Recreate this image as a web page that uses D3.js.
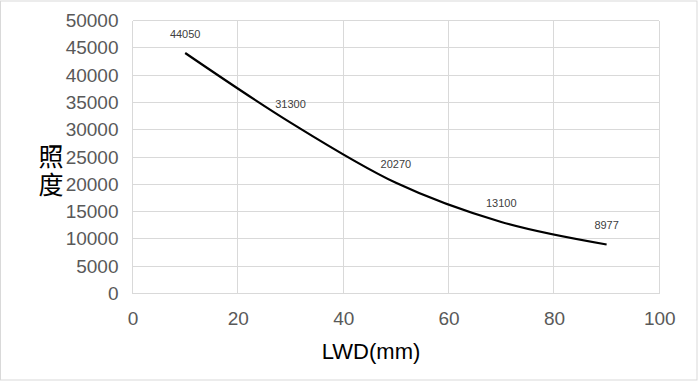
<!DOCTYPE html>
<html><head><meta charset="utf-8">
<script src="https://cdn.jsdelivr.net/npm/d3@7"></script>
<style>html,body{margin:0;padding:0;background:#fff;}svg{display:block;}</style>
</head><body>
<svg id="c" width="698" height="382"></svg>
<script>
const lwd = [10, 30, 50, 70, 90];
const illuminance = [44050, 31300, 20270, 13100, 8977];
const xTicks = [0, 20, 40, 60, 80, 100];
const yTicks = [0, 5000, 10000, 15000, 20000, 25000, 30000, 35000, 40000, 45000, 50000];
const xTitle = "LWD(mm)";
const yTitle = "照度";

const svg = d3.select("#c");
const L = 132.5, R = 659.3, T = 20.5, B = 293.5;
const x = d3.scaleLinear().domain([0, 100]).range([L, R]);
const y = d3.scaleLinear().domain([0, 50000]).range([B, T]);

svg.append("rect").attr("x", 0.5).attr("y", 1).attr("width", 696.5).attr("height", 379)
  .attr("fill", "#fff").attr("stroke", "#d9d9d9").attr("stroke-width", 1);

const grid = svg.append("g").attr("stroke", "#d9d9d9").attr("stroke-width", 1).attr("shape-rendering", "crispEdges");
grid.selectAll("line.h").data(yTicks).join("line").attr("class", "h")
  .attr("x1", L).attr("x2", R).attr("y1", d => y(d)).attr("y2", d => y(d));
grid.selectAll("line.v").data(xTicks).join("line").attr("class", "v")
  .attr("x1", d => x(d)).attr("x2", d => x(d)).attr("y1", T).attr("y2", B);

const fontNum = "'Liberation Sans', Arial, sans-serif";

const yAxis = svg.append("g").attr("transform", `translate(${L},0)`)
  .call(d3.axisLeft(y).tickValues(yTicks).tickSize(0).tickPadding(14).tickFormat(d3.format("d")));
yAxis.select(".domain").remove();
yAxis.selectAll("text").attr("fill", "#595959").style("font-family", fontNum).style("font-size", "19px");

const xAxis = svg.append("g").attr("transform", `translate(0,${B})`)
  .call(d3.axisBottom(x).tickValues(xTicks).tickSize(0).tickPadding(18).tickFormat(d3.format("d")));
xAxis.select(".domain").remove();
xAxis.selectAll("text").attr("fill", "#595959").style("font-family", fontNum).style("font-size", "19px");

const pts = lwd.map((v, i) => [v, illuminance[i]]);
const line = d3.line().x(d => x(d[0])).y(d => y(d[1])).curve(d3.curveCardinal.tension(0));
svg.append("path").attr("d", line(pts)).attr("fill", "none").attr("stroke", "#000").attr("stroke-width", 2.2);

svg.selectAll("text.lbl").data(pts).join("text").attr("class", "lbl")
  .attr("x", d => x(d[0])).attr("y", d => y(d[1]) - 15)
  .attr("text-anchor", "middle").attr("fill", "#404040")
  .style("font-family", fontNum).style("font-size", "11px")
  .text(d => d[1]);

svg.append("text").attr("x", 371).attr("y", 359).attr("text-anchor", "middle")
  .attr("fill", "#000").style("font-family", fontNum).style("font-size", "22px").text(xTitle);

svg.append("text").attr("x", 51).attr("y", 172).attr("text-anchor", "middle")
  .style("writing-mode", "vertical-rl").style("text-orientation", "upright")
  .style("letter-spacing", "3px")
  .attr("fill", "#000").style("font-family", "'Noto Sans CJK SC', sans-serif").style("font-size", "25px").text(yTitle);
</script>
</body></html>
